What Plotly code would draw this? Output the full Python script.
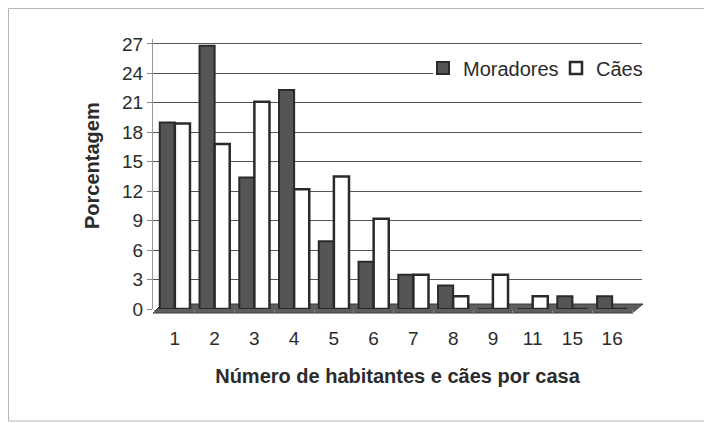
import plotly.graph_objects as go

categorias = ["1", "2", "3", "4", "5", "6", "7", "8", "9", "11", "15", "16"]
moradores = [19.0, 26.8, 13.4, 22.3, 6.9, 4.8, 3.5, 2.4, 0.0, 0.0, 1.3, 1.3]
caes = [18.9, 16.8, 21.1, 12.2, 13.5, 9.2, 3.5, 1.3, 3.5, 1.3, 0.0, 0.0]
y_ticks = [0, 3, 6, 9, 12, 15, 18, 21, 24, 27]

FONT = "Liberation Sans, Arial, sans-serif"
TXT = "#2b2b2b"

fig = go.Figure()
fig.add_trace(go.Bar(
    x=categorias, y=moradores, name="Moradores",
    marker=dict(color="#555555", line=dict(color="#2a2a2a", width=2)),
))
fig.add_trace(go.Bar(
    x=categorias, y=caes, name="Cães",
    marker=dict(color="#ffffff", line=dict(color="#2a2a2a", width=2.5)),
))

# page has an 8px body margin; work in page pixels and convert
OFF = 8
W, H = 712 - OFF, 423 - OFF
PL, PR, PT, PB = 153, 642, 39, 309  # plot area in page pixels
L, R, T = PL - OFF, W - (PR - OFF), PT - OFF
B = H - (PB - OFF)
pw, ph = PR - PL, PB - PT


def px_x(p):
    return (p - PL) / pw


def px_y(p):
    return (PB - p) / ph

shapes = [
    # outer frame
    dict(type="rect", xref="paper", yref="paper",
         x0=px_x(OFF + 0.5), x1=px_x(730), y0=px_y(421), y1=px_y(OFF + 0.5),
         line=dict(color="#b5b5b5", width=1), fillcolor="rgba(0,0,0,0)", layer="below"),
    # floor of the 3D chart
    dict(type="path", xref="paper", yref="paper",
         path=f"M {px_x(153)},{px_y(313)} L {px_x(632)},{px_y(313)} L {px_x(643)},{px_y(304)} L {px_x(162)},{px_y(304)} Z",
         fillcolor="#5e5e5e", line=dict(color="#3a3a3a", width=1), layer="below"),
]

annotations = [
    dict(text="<b>Porcentagem</b>", xref="paper", yref="paper",
         x=px_x(92), y=px_y(166), xanchor="center", yanchor="middle",
         textangle=-90, showarrow=False,
         font=dict(size=20, family=FONT, color=TXT)),
]

fig.update_layout(
    width=W, height=H,
    margin=dict(l=L, r=R, t=T, b=B),
    paper_bgcolor="white", plot_bgcolor="white",
    barmode="group", bargap=0.24, bargroupgap=0.0,
    font=dict(family=FONT, color=TXT, size=19),
    showlegend=True,
    legend=dict(orientation="h", x=px_x(689), xanchor="right", y=px_y(68), yanchor="middle",
                bgcolor="rgba(255,255,255,0)", font=dict(size=20, family=FONT, color=TXT),
                itemwidth=30, traceorder="normal",
                entrywidth=88, entrywidthmode="pixels"),
    shapes=shapes,
    annotations=annotations,
    xaxis=dict(
        type="category", range=[-0.55, 11.75],
        showgrid=False, zeroline=False, showline=False,
        ticks="outside", ticklen=4, tickcolor="#888888", tickson="boundaries",
        ticklabelstandoff=16,
        tickfont=dict(size=19, family=FONT, color=TXT),
        title=dict(text="<b>Número de habitantes e cães por casa</b>",
                   font=dict(size=20, family=FONT, color=TXT), standoff=20),
    ),
    yaxis=dict(
        range=[0, 27.5], tickvals=y_ticks,
        showgrid=True, gridcolor="#555555", gridwidth=1,
        zeroline=False, showline=True, linecolor="#999999", linewidth=1,
        ticks="outside", ticklen=5, tickcolor="#888888",
        tickfont=dict(size=19, family=FONT, color=TXT),
    ),
)

# white patch behind the legend (hides the gridline under it, like the original)
fig.add_shape(type="rect", xref="paper", yref="paper",
              x0=px_x(433), x1=px_x(642), y0=px_y(80), y1=px_y(57),
              fillcolor="white", line=dict(width=0), layer="above")

fig.write_html("out.html")
